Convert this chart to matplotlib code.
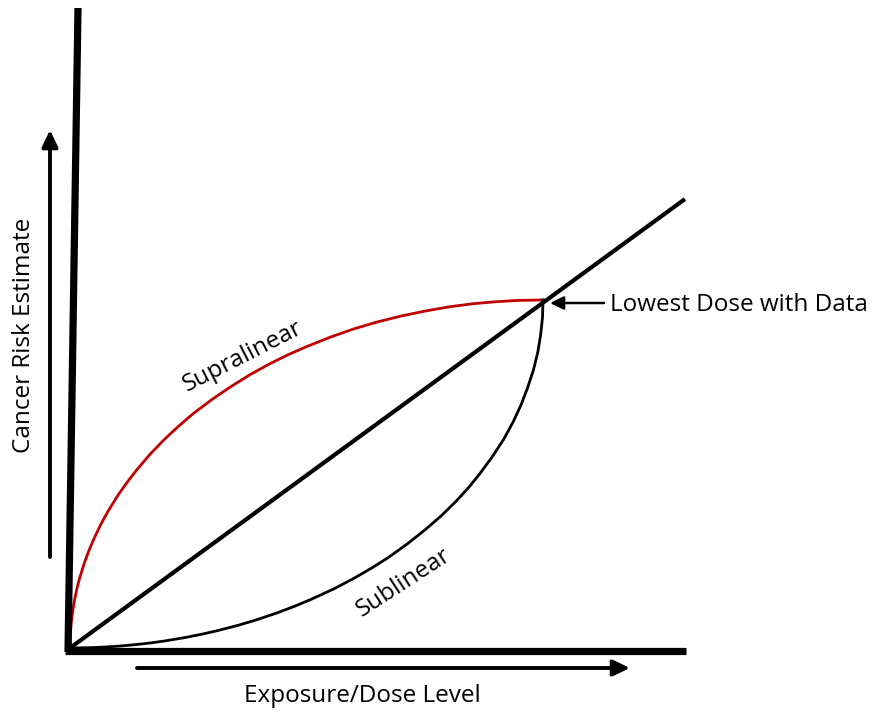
import matplotlib
matplotlib.use("Agg")
import matplotlib.pyplot as plt
from matplotlib.patches import FancyArrowPatch

# ---- data (dose normalised so that the lowest dose with data = 1) ----
linear_dose = [0.0, 1.3]
linear_risk = [0.0, 1.29]

supra_dose = [0.0, 0.001, 0.003, 0.006, 0.01, 0.015, 0.02, 0.03, 0.04, 0.05, 0.065, 0.08,
              0.1, 0.12, 0.14, 0.17, 0.2, 0.23, 0.26, 0.3, 0.34, 0.38, 0.42, 0.46, 0.5,
              0.55, 0.6, 0.65, 0.7, 0.75, 0.8, 0.85, 0.9, 0.95, 1.0]
supra_risk = [0.0, 0.045, 0.077, 0.109, 0.141, 0.173, 0.199, 0.243, 0.280, 0.312, 0.355,
              0.392, 0.436, 0.475, 0.510, 0.558, 0.600, 0.638, 0.673, 0.714, 0.751, 0.785,
              0.815, 0.842, 0.866, 0.893, 0.917, 0.937, 0.954, 0.968, 0.980, 0.989, 0.995,
              0.999, 1.0]

sub_dose = [0.0, 0.045, 0.077, 0.109, 0.141, 0.173, 0.199, 0.243, 0.280, 0.312, 0.355,
            0.392, 0.436, 0.475, 0.510, 0.558, 0.600, 0.638, 0.673, 0.714, 0.751, 0.785,
            0.815, 0.842, 0.866, 0.893, 0.917, 0.937, 0.954, 0.968, 0.980, 0.989, 0.995,
            0.999, 1.0]
sub_risk = [0.0, 0.001, 0.003, 0.006, 0.01, 0.015, 0.02, 0.03, 0.04, 0.05, 0.065, 0.08,
            0.1, 0.12, 0.14, 0.17, 0.2, 0.23, 0.26, 0.3, 0.34, 0.38, 0.42, 0.46, 0.5,
            0.55, 0.6, 0.65, 0.7, 0.75, 0.8, 0.85, 0.9, 0.95, 1.0]

curve_labels = ["Supralinear", "Sublinear"]
x_label = "Exposure/Dose Level"
y_label = "Cancer Risk Estimate"
point_label = "Lowest Dose with Data"

W, H = 877, 715
fig = plt.figure(figsize=(W / 100, H / 100), dpi=100)
fig.patch.set_facecolor("white")
ax = fig.add_axes([0, 0, 1, 1])
ax.set_axis_off()

# pixel geometry: origin at (70,648), lowest-dose point at (543,300)
ox, oy, sx, sy = 70, 648, 473, 348
ax.set_xlim(-ox / sx, (W - ox) / sx)
ax.set_ylim(-(H - oy) / sy, oy / sy)

def P(px, py):
    """pixel (from top-left) -> figure fraction"""
    return (px / W, 1 - py / H)

FONT = "Open Sans"
FS = 17.5
tf = fig.transFigure

# axis frame lines
fig.add_artist(plt.Line2D([P(78, 8)[0], P(68, 652)[0]], [P(78, 8)[1], P(68, 652)[1]],
                          transform=tf, color="black", lw=5.2, solid_capstyle="butt"))
fig.add_artist(plt.Line2D([P(65, 651)[0], P(686, 651)[0]], [P(65, 651)[1], P(686, 651)[1]],
                          transform=tf, color="black", lw=5.2, solid_capstyle="butt"))

# curves
ax.plot(linear_dose, linear_risk, color="black", lw=3.0, solid_capstyle="butt", zorder=3)
ax.plot(supra_dose, supra_risk, color="#C00000", lw=2.0, zorder=2)
ax.plot(sub_dose, sub_risk, color="black", lw=2.0, zorder=2)

# direction arrows
arr_kw = dict(transform=tf, arrowstyle="-|>,head_length=0.5,head_width=0.24",
              color="black", lw=2.8, mutation_scale=20, shrinkA=0, shrinkB=0)
fig.add_artist(FancyArrowPatch(P(50, 557), P(50, 130), **arr_kw))
fig.add_artist(FancyArrowPatch(P(137, 668), P(630, 668), **arr_kw))

# lowest-dose pointer
fig.add_artist(FancyArrowPatch(P(604, 303), P(550, 303), transform=tf,
                               arrowstyle="-|>,head_length=0.45,head_width=0.22",
                               color="black", lw=1.8, mutation_scale=18,
                               shrinkA=0, shrinkB=0))

# texts
fig.text(*P(24, 335), y_label, rotation=90, ha="center", va="center",
         fontsize=FS, family=FONT)
fig.text(*P(362, 696), x_label, ha="center", va="center", fontsize=FS, family=FONT)
fig.text(*P(610, 305), point_label, ha="left", va="center", fontsize=FS, family=FONT)
fig.text(*P(243, 357), curve_labels[0], rotation=27, ha="center", va="center",
         fontsize=FS, family=FONT, rotation_mode="anchor")
fig.text(*P(404, 583), curve_labels[1], rotation=33, ha="center", va="center",
         fontsize=FS, family=FONT, rotation_mode="anchor")

fig.savefig("out.png", dpi=100, facecolor="white")
